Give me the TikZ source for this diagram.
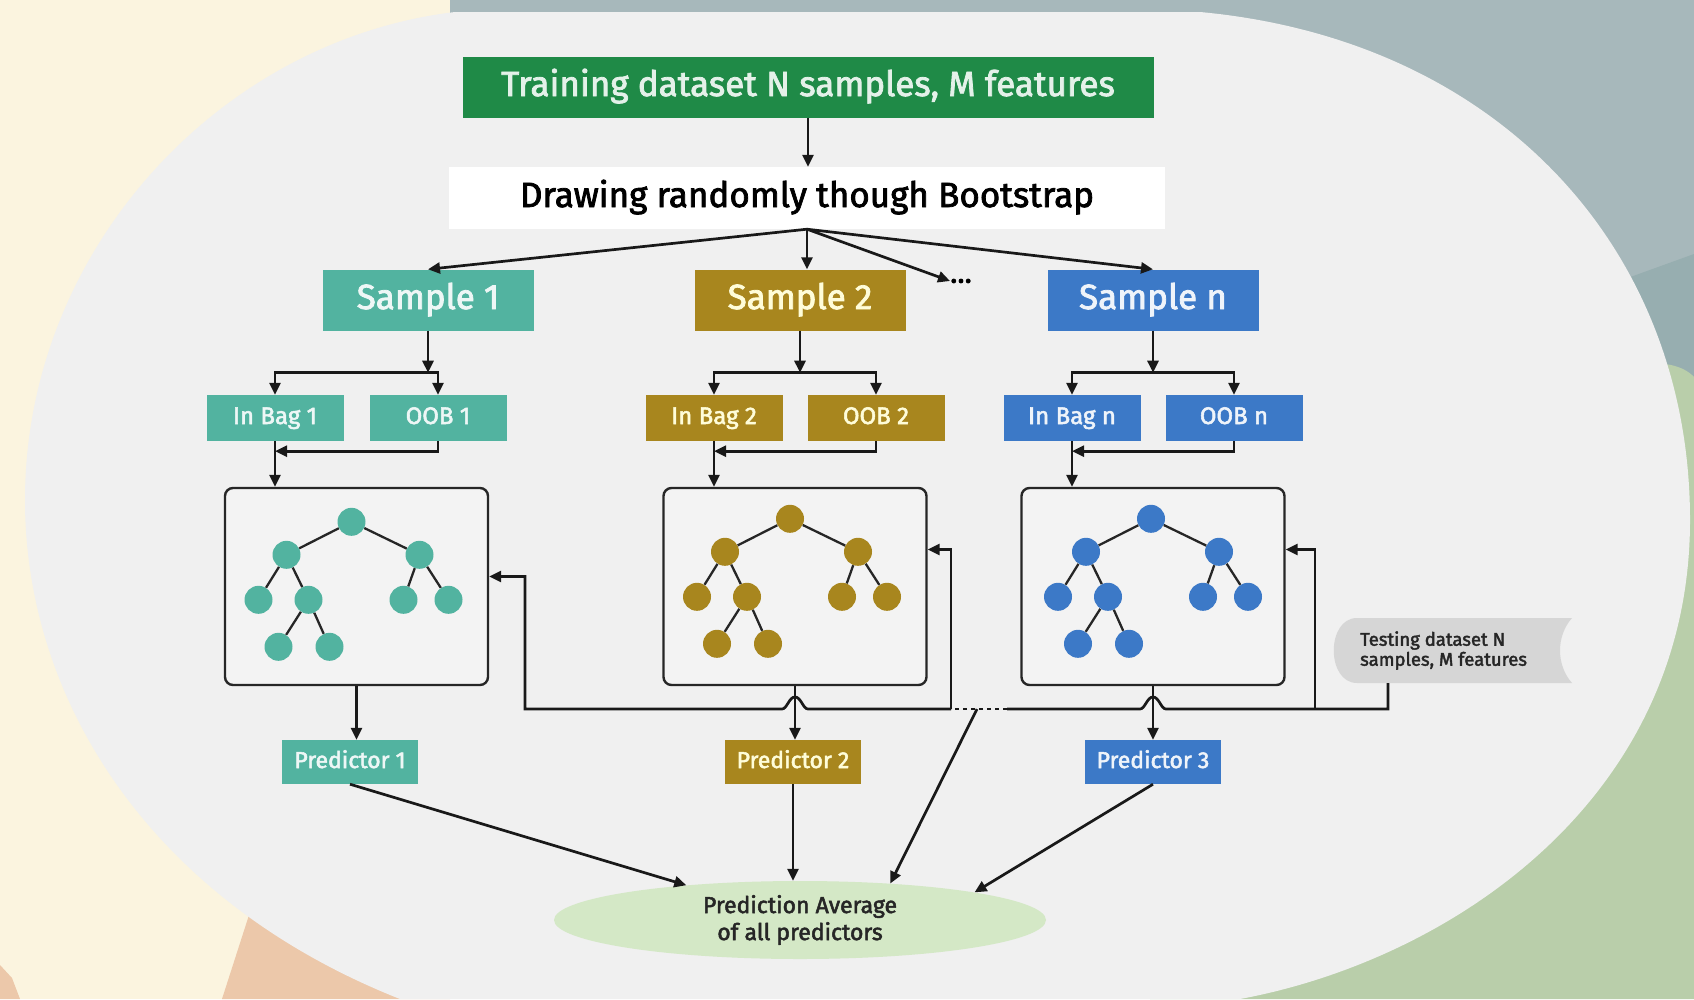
\documentclass[tikz,border=0pt]{standalone}
\usepackage{fontspec}
\setmainfont{Fira Sans}[FakeBold=2.2]
\usetikzlibrary{calc, positioning, shapes.geometric, arrows.meta}

\definecolor{trainGreen}{HTML}{1F8A47}
\definecolor{sampleTeal}{HTML}{52B3A0}
\definecolor{sampleGold}{HTML}{A8861E}
\definecolor{sampleBlue}{HTML}{3C79C7}
\definecolor{bgCream}{HTML}{FBF4DF}
\definecolor{bgSlate}{HTML}{A7B8BB}
\definecolor{bgSlateDark}{HTML}{97AEB0}
\definecolor{bgSage}{HTML}{B9CEAA}
\definecolor{bgPeach}{HTML}{ECC8AA}
\definecolor{panelGrey}{HTML}{F0F0F0}
\definecolor{boxGrey}{HTML}{F3F3F3}
\definecolor{testGrey}{HTML}{D6D6D6}
\definecolor{avgGreen}{HTML}{D4E8C6}

\tikzset{
  pics/tree/.style={code={
    \node[leaf, fill=#1] (-r) at (0,0) {};
    \node[leaf, fill=#1] (-a) at (-65,33) {};
    \node[leaf, fill=#1] (-b) at (68,33) {};
    \node[leaf, fill=#1] (-aa) at (-93,78) {};
    \node[leaf, fill=#1] (-ab) at (-43,78) {};
    \node[leaf, fill=#1] (-ba) at (52,78) {};
    \node[leaf, fill=#1] (-bb) at (97,78) {};
    \node[leaf, fill=#1] (-aba) at (-73,125) {};
    \node[leaf, fill=#1] (-abb) at (-22,125) {};
    \draw[branch] (-r) -- (-a) (-r) -- (-b) (-a) -- (-aa) (-a) -- (-ab)
      (-b) -- (-ba) (-b) -- (-bb) (-ab) -- (-aba) (-ab) -- (-abb);
  }}
}

\begin{document}
\begin{tikzpicture}[
    x=1pt, y=-1pt,
    every node/.style={inner sep=0pt, align=center},
    sbox/.style={minimum width=211pt, minimum height=61pt, text height=25pt, text depth=7pt, font=\fontsize{35}{40}\selectfont},
    bag/.style={minimum width=137pt, minimum height=46pt, text height=17pt, text depth=5pt, font=\fontsize{24}{28}\selectfont},
    pred/.style={minimum width=136pt, minimum height=44pt, text height=17pt, text depth=5pt, font=\fontsize{23}{28}\selectfont},
    treebox/.style={draw=black!85, line width=2.4pt, rounded corners=8pt, fill=boxGrey, minimum width=263pt, minimum height=197pt},
    leaf/.style={circle, minimum size=28pt},
    branch/.style={line width=2.3pt, black!85},
    line/.style={line width=2.7pt, black!90},
    arr/.style={line, -{Triangle[length=12pt, width=11pt]}}
  ]
  % background
  \fill[bgCream] (0,0) rectangle (1694,999);
  \fill[bgSlate] (450,0) -- (1694,0) -- (1694,400) -- (1300,500) -- (450,60) -- cycle;
  \fill[bgSlateDark] (1600,288) -- (1694,254) -- (1694,385) -- (1640,372) -- cycle;
  \fill[bgSage] (1640,366) .. controls (1662,360) and (1684,366) .. (1694,377) -- (1694,999) -- (1150,999) -- cycle;
  \fill[bgPeach] (250,912) -- (222,999) -- (450,999) -- (300,880) -- cycle;
  \fill[bgPeach] (0,965) -- (12,978) -- (20,999) -- (0,999) -- cycle;
  \fill[panelGrey] (455,12) -- (1200,12) .. controls (1500,40) and (1690,250) .. (1690,520)
    .. controls (1690,800) and (1450,960) .. (1240,999) -- (400,999)
    .. controls (150,900) and (25,700) .. (25,500) .. controls (25,250) and (220,40) .. (455,12) -- cycle;
  \fill[testGrey] (1357,618) -- (1572,618) .. controls (1556,636) and (1556,665) .. (1572,683)
    -- (1357,683) .. controls (1326,683) and (1326,618) .. (1357,618) -- cycle;

  % top
  \node[sbox, fill=trainGreen, text=white!88!trainGreen, minimum width=691pt] (train) at (808,87) {Training dataset N samples, M features};
  \node[sbox, fill=white, text=black, minimum width=716pt, minimum height=62pt] (boot) at (807,198) {Drawing randomly though Bootstrap};

  \node[sbox, fill=sampleTeal, text=white!90!sampleTeal] (s1) at (428,300) {Sample 1};
  \node[sbox, fill=sampleGold, text=white!85!yellow] (s2) at (800,300) {Sample 2};
  \node[sbox, fill=sampleBlue, text=white!92!sampleBlue] (sn) at (1153,300) {Sample n};
  \node[font=\fontsize{30}{40}\selectfont] (dots) at (961,281) {...};

  % bags
  \node[bag, fill=sampleTeal, text=white!90!sampleTeal] (ib1) at (275,418) {In Bag 1};
  \node[bag, fill=sampleTeal, text=white!90!sampleTeal] (oob1) at (438,418) {OOB 1};
  \node[bag, fill=sampleGold, text=white!85!yellow] (ib2) at (714,418) {In Bag 2};
  \node[bag, fill=sampleGold, text=white!85!yellow] (oob2) at (876,418) {OOB 2};
  \node[bag, fill=sampleBlue, text=white!92!sampleBlue] (ibn) at (1072,418) {In Bag n};
  \node[bag, fill=sampleBlue, text=white!92!sampleBlue] (oobn) at (1234,418) {OOB n};

  % trees
  \node[treebox] (tb1) at (356.5,586.5) {};
  \node[treebox] (tb2) at (795,586.5) {};
  \node[treebox] (tbn) at (1153,586.5) {};
  \pic (t1) at ($(tb1.north)+(-5,35)$) {tree=sampleTeal};
  \pic (t2) at ($(tb2.north)+(-5,32)$) {tree=sampleGold};
  \pic (tn) at ($(tbn.north)+(-2,32)$) {tree=sampleBlue};

  % predictors
  \node[pred, fill=sampleTeal, text=white!90!sampleTeal] (pred1) at (350,762) {Predictor 1};
  \node[pred, fill=sampleGold, text=white!85!yellow] (pred2) at (793,762) {Predictor 2};
  \node[pred, fill=sampleBlue, text=white!92!sampleBlue] (pred3) at (1153,762) {Predictor 3};

  \node[anchor=west, align=left, minimum height=65pt, text=black!85, font=\fontsize{18.5}{20}\selectfont] (test) at (1360,650.5) {Testing dataset N\\samples, M features};

  \node[ellipse, fill=avgGreen, minimum width=492pt, minimum height=78pt, text=black!85, font=\fontsize{23}{27}\selectfont] (avg) at (800,920) {Prediction Average\\of all predictors};

  % arrows
  \draw[arr] (train.south) -- (train.south |- boot.north);
  \draw[arr] (boot.south) -- (s1.north);
  \draw[arr] (boot.south) -- (boot.south |- s2.north);
  \draw[arr] (boot.south) -- (dots.west);
  \draw[arr] (boot.south) -- (sn.north);

  \foreach \s/\i/\o/\t in {s1/ib1/oob1/tb1, s2/ib2/oob2/tb2, sn/ibn/oobn/tbn} {
    \draw[arr] (\s.south) -- ++(0,42) coordinate (j\s);
    \draw[arr] (j\s) -| (\i);
    \draw[arr] (j\s) -| (\o);
    \draw[arr] (\i) -- (\i |- \t.north);
    \draw[arr] (\o.south) |- ($(\i.south)+(0,10)$);
  }

  \draw[arr] (tb1.south) -- (tb1.south |- pred1.north);
  \draw[arr] (tb2.south) -- (tb2.south |- pred2.north);
  \draw[arr] (tbn.south) -- (tbn.south |- pred3.north);

  % testing bus
  \coordinate (tbus) at (1388,709);
  \coordinate (busn) at (1315,709);
  \coordinate (dashR) at (1007,709);
  \coordinate (dashM) at (977,709);
  \coordinate (bus2) at (951,709);
  \coordinate (bus1) at (525,709);
  \coordinate (hn) at (tbn.south |- tbus);
  \coordinate (h2) at (tb2.south |- tbus);

  \draw[line] (tbus |- test.south) -- (tbus) -- ($(hn)+(13,0)$)
    .. controls +(-5,0) and +(6,0) .. ($(hn)+(0,-12)$)
    .. controls +(-6,0) and +(5,0) .. ($(hn)+(-13,0)$) -- (dashR);
  \draw[line, dash pattern=on 4pt off 4pt] (dashR) -- (bus2);
  \draw[arr] (bus2) -- ($(h2)+(13,0)$)
    .. controls +(-5,0) and +(6,0) .. ($(h2)+(0,-12)$)
    .. controls +(-6,0) and +(5,0) .. ($(h2)+(-13,0)$) -- (bus1) |- ([yshift=10pt]tb1.east);
  \draw[arr] (bus2) |- ([yshift=37pt]tb2.east);
  \draw[arr] (busn) |- ([yshift=37pt]tbn.east);

  % into the average
  \draw[arr] (pred1.south) -- (avg.163);
  \draw[arr] (pred2.south) -- (pred2.south |- avg.north);
  \draw[arr] (dashM) -- (avg.22);
  \draw[arr] (pred3.south) -- (avg.9);
\end{tikzpicture}
\end{document}
